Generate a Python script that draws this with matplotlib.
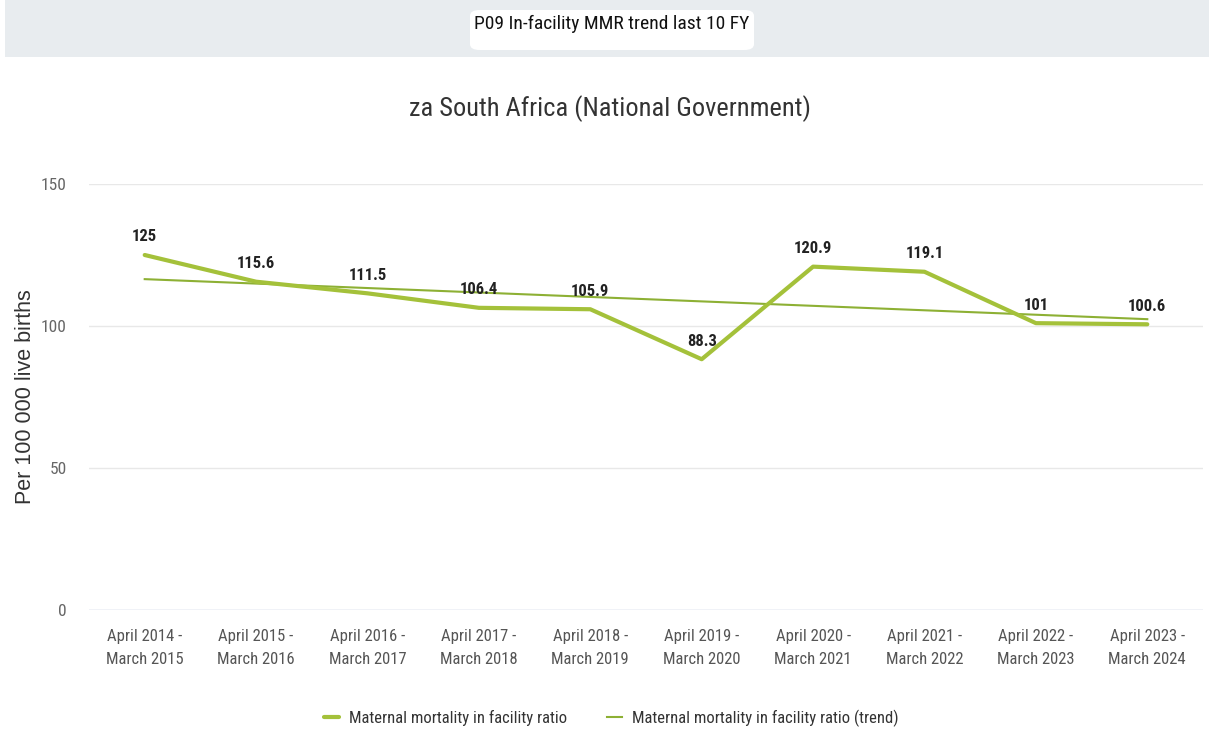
import matplotlib
matplotlib.use("Agg")
import matplotlib.pyplot as plt
from matplotlib.patches import FancyBboxPatch, Rectangle
from matplotlib import font_manager

categories = ["April 2014 -\nMarch 2015", "April 2015 -\nMarch 2016", "April 2016 -\nMarch 2017",
              "April 2017 -\nMarch 2018", "April 2018 -\nMarch 2019", "April 2019 -\nMarch 2020",
              "April 2020 -\nMarch 2021", "April 2021 -\nMarch 2022", "April 2022 -\nMarch 2023",
              "April 2023 -\nMarch 2024"]
values = [125, 115.6, 111.5, 106.4, 105.9, 88.3, 120.9, 119.1, 101, 100.6]
value_labels = ["125", "115.6", "111.5", "106.4", "105.9", "88.3", "120.9", "119.1", "101", "100.6"]
trend_x = [0, 9]
trend_values = [116.5, 102.4]
yticks = [0, 50, 100, 150]

names = {f.name for f in font_manager.fontManager.ttflist}


def pick(options):
    for o in options:
        if o in names:
            return o
    return "DejaVu Sans"


narrow = pick(["Roboto Condensed", "Archivo Narrow", "Asap Condensed", "Roboto"])
regular = pick(["Liberation Sans", "Arimo", "DejaVu Sans"])

W, H = 1209, 731
fig = plt.figure(figsize=(W / 100, H / 100), dpi=100)

# header band
fig.patches.append(Rectangle((5 / W, 1 - 57 / H), 1 - 5 / W, 57 / H, transform=fig.transFigure,
                             facecolor="#E8ECEF", edgecolor="none", zorder=0))
fig.patches.append(FancyBboxPatch((470 / W, 1 - 50 / H), 284 / W, 40 / H,
                                  boxstyle="round,pad=0,rounding_size=0.008",
                                  transform=fig.transFigure, facecolor="white",
                                  edgecolor="none", zorder=1))
fig.text(612 / W, 1 - 24 / H, "P09 In-facility MMR trend last 10 FY", ha="center", va="center",
         fontsize=14, family=narrow, color="#111111")

fig.text(610 / W, 1 - 109 / H, "za South Africa (National Government)", ha="center", va="center",
         fontsize=19, family=narrow, color="#333333")

ax = fig.add_axes([89 / W, 1 - 610 / H, (1203 - 89) / W, (610 - 184) / H])
ax.set_xlim(-0.5, 9.5)
ax.set_ylim(0, 150)
ax.set_yticks(yticks)
ax.set_yticklabels([str(t) for t in yticks], family=narrow, fontsize=12.5, color="#666666")
ax.set_xticks(range(len(categories)))
ax.set_xticklabels(categories, family=narrow, fontsize=12, color="#555555", linespacing=1.6)
ax.tick_params(axis="both", length=0)
ax.tick_params(axis="y", pad=16)
ax.tick_params(axis="x", pad=14)
for s in ax.spines.values():
    s.set_visible(False)
ax.grid(axis="y", color="#E8E8E8", linewidth=1)
ax.axhline(0, color="#CCD6EB", linewidth=1, zorder=1)
ax.set_axisbelow(True)

main_color = "#A4C13A"
trend_color = "#8DB034"
l1, = ax.plot(range(len(values)), values, color=main_color, linewidth=3, solid_capstyle="round",
              solid_joinstyle="round", zorder=3, label="Maternal mortality in facility ratio")
l2, = ax.plot(trend_x, trend_values, color=trend_color, linewidth=1.5, zorder=2,
              label="Maternal mortality in facility ratio (trend)")

for i, (v, t) in enumerate(zip(values, value_labels)):
    ax.annotate(t, (i, v), xytext=(0, 13), textcoords="offset points", ha="center", va="center",
                fontsize=12, fontweight="bold", family=narrow, color="#222222", zorder=4)

ax.set_ylabel("Per 100 000 live births", fontsize=15.5, color="#333333", family=regular)
ax.yaxis.set_label_coords(-53 / (1203 - 89), 0.5)

leg = fig.legend(handles=[l1, l2], loc="center", bbox_to_anchor=(611 / W, 1 - 718 / H), ncol=2,
                 frameon=False, prop={"family": narrow, "size": 12}, handlelength=0.9,
                 columnspacing=2.4, handletextpad=0.6)
for txt in leg.get_texts():
    txt.set_color("#333333")

fig.savefig("out.png", dpi=100)
